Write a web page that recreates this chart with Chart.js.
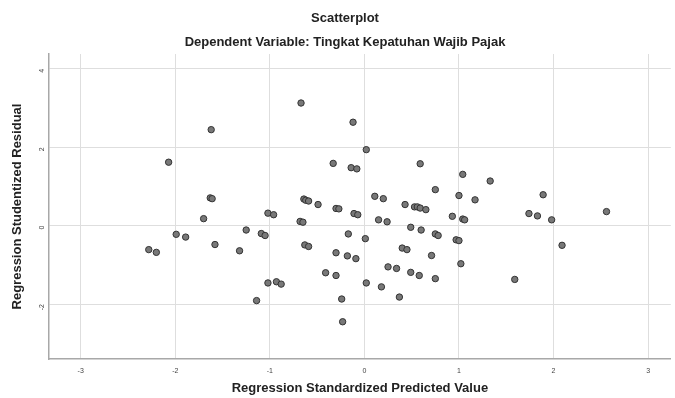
<!DOCTYPE html>
<html>
<head>
<meta charset="utf-8">
<script src="https://cdn.jsdelivr.net/npm/chart.js@4/dist/chart.umd.min.js"></script>
<style>
  html, body { margin: 0; padding: 0; background: #fff; }
</style>
</head>
<body>
<canvas id="main_graphic" width="675" height="398"></canvas>
<script>
// Regression Standardized Predicted Value (x)
const predicted = [
  -0.67, -1.62, -2.07, -0.12, 0.02, -0.33, -0.14, -0.08, 0.59, 1.04,
  1.33, 0.75, 1.00, 1.17, 1.89, 0.11, 0.20, -1.63, -1.61, -0.64,
  -0.62, -0.59, -0.49, -0.30, -0.27, 0.43, 0.53, 0.56, 0.59, 0.65,
  -1.70, -1.02, -0.96, -0.11, -0.07, -0.68, -0.65, 0.15, 0.24, 0.93,
  1.04, 1.06, 1.74, 1.83, 1.98, 2.56, 0.49, 0.60, -1.25, -1.09,
  -1.05, -1.99, -1.89, -0.17, 0.01, 0.75, 0.78, 0.97, 1.00, 2.09,
  -1.58, -2.28, -2.20, -1.32, -0.63, -0.59, -0.30, -0.18, -0.09, 0.40,
  0.45, 0.71, 1.02, 0.25, 0.34, 0.49, 0.58, 0.75, 1.59, -0.41,
  -0.30, -1.02, -0.93, -0.88, 0.02, 0.18, 0.37, -1.14, -0.24, -0.23
]

// Regression Studentized Residual (y)
const residual = [
  3.13, 2.45, 1.62, 2.64, 1.94, 1.59, 1.48, 1.45, 1.58, 1.31,
  1.14, 0.92, 0.77, 0.66, 0.79, 0.75, 0.69, 0.71, 0.69, 0.68,
  0.65, 0.63, 0.54, 0.44, 0.43, 0.54, 0.48, 0.48, 0.45, 0.41,
  0.18, 0.32, 0.28, 0.31, 0.28, 0.11, 0.09, 0.15, 0.10, 0.24,
  0.17, 0.15, 0.31, 0.25, 0.15, 0.36, -0.04, -0.11, -0.11, -0.20,
  -0.25, -0.22, -0.29, -0.21, -0.33, -0.21, -0.25, -0.36, -0.38, -0.50,
  -0.48, -0.61, -0.68, -0.64, -0.49, -0.53, -0.69, -0.77, -0.84, -0.57,
  -0.61, -0.76, -0.97, -1.05, -1.09, -1.19, -1.27, -1.35, -1.37, -1.20,
  -1.27, -1.46, -1.43, -1.49, -1.46, -1.56, -1.82, -1.91, -1.87, -2.45
]

const xRange = [-3.335, 3.24]
const yRange = [-3.4, 4.38]

const titulo = 'Scatterplot'
const subtitulo = 'Dependent Variable: Tingkat Kepatuhan Wajib Pajak'

const pontos = predicted.map((x, i) => ({x: x, y: residual[i]}))

const fonte = 'Arial, "Liberation Sans", sans-serif'
const cor_grade = '#dedede'
const cor_eixo = '#a8a8a8'

// titulos desenhados a mao, centrados como no SPSS
const titulos = {
  id: 'titulos',
  afterDraw(chart) {
    const ctx = chart.ctx
    ctx.save()
    ctx.fillStyle = '#222'
    ctx.font = 'bold 13px ' + fonte
    ctx.textAlign = 'center'
    ctx.textBaseline = 'middle'
    ctx.fillText(titulo, 345, 18)
    ctx.fillText(subtitulo, 345, 42)
    ctx.restore()
  }
}

var data = {
  datasets: [{
    data: pontos,
    pointRadius: 3.2,
    pointHoverRadius: 3.2,
    borderWidth: 1,
    backgroundColor: '#787878',
    borderColor: '#333333'
  }]
}

var config = {
  type: 'scatter',
  data: data,
  plugins: [titulos],
  options: {
    responsive: false,
    animation: false,
    devicePixelRatio: 1,
    layout: {padding: {left: 0, right: 0, top: 54, bottom: 0}},
    plugins: {
      legend: {display: false},
      tooltip: {enabled: false}
    },
    scales: {
      x: {
        type: 'linear',
        min: xRange[0],
        max: xRange[1],
        afterFit: (s) => { s.height = 39 },
        grid: {color: cor_grade, lineWidth: 1, drawTicks: false},
        border: {color: cor_eixo, width: 1.5},
        ticks: {
          stepSize: 1,
          includeBounds: false,
          color: '#444',
          padding: 8,
          font: {family: fonte, size: 7}
        },
        title: {
          display: true,
          text: 'Regression Standardized Predicted Value',
          color: '#222',
          font: {family: fonte, size: 13, weight: 'bold'},
          padding: {top: 4, bottom: 2}
        }
      },
      y: {
        type: 'linear',
        min: yRange[0],
        max: yRange[1],
        afterFit: (s) => { s.width = 49 },
        grid: {color: cor_grade, lineWidth: 1, drawTicks: false},
        border: {color: cor_eixo, width: 1.5},
        ticks: {
          stepSize: 2,
          includeBounds: false,
          color: '#444',
          padding: 7,
          minRotation: 90,
          maxRotation: 90,
          font: {family: fonte, size: 7}
        },
        title: {
          display: true,
          text: 'Regression Studentized Residual',
          color: '#222',
          font: {family: fonte, size: 13, weight: 'bold'},
          padding: {top: 9.5, bottom: 2}
        }
      }
    }
  }
}

var myChart = new Chart(document.getElementById('main_graphic'), config)
</script>
</body>
</html>
